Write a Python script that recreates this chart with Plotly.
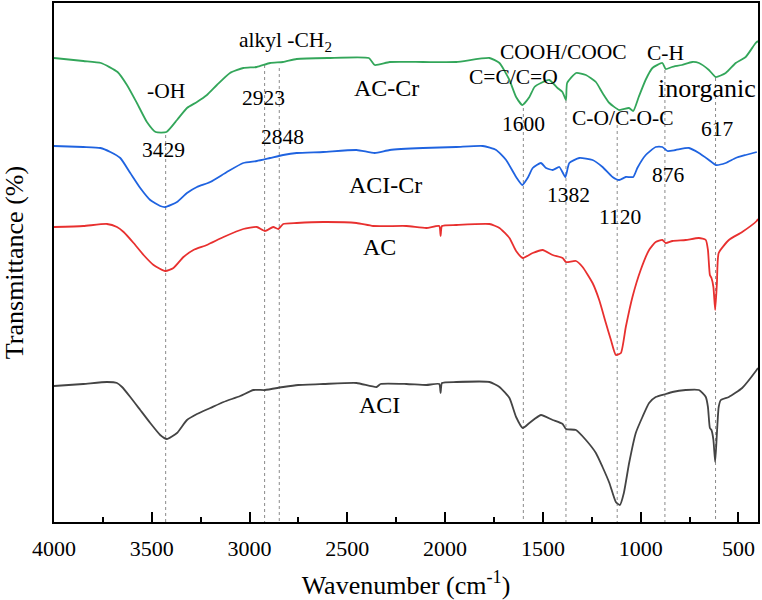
import plotly.graph_objects as go

# FTIR spectra, transmittance in arbitrary units (curves stacked with offsets)
wn_accr = [4000, 3850, 3760, 3675, 3627, 3576, 3525, 3480, 3425, 3371, 3320, 3269, 3218, 3167,
           3100, 3032, 2963, 2895, 2829, 2759, 2600, 2390, 2360, 2283, 2113, 1943, 1773, 1722,
           1671, 1637, 1605, 1569, 1543, 1510, 1467, 1425, 1400, 1382, 1376, 1330, 1280, 1229,
           1195, 1160, 1110, 1060, 1038, 1010, 975, 940, 889, 872, 840, 789, 737, 702, 651, 616,
           565, 514, 463, 412, 400]
t_accr = [464, 461, 459, 450, 437, 419, 400, 390, 390, 402, 414, 420, 427, 437,
          449, 454, 455, 459, 460, 463, 464, 464, 457, 460, 460, 460, 464, 459,
          442, 425, 417, 425, 435, 439, 442, 434, 430, 422, 439, 449, 447, 440,
          429, 419, 412, 414, 411, 425, 442, 454, 459, 453, 455, 457, 460, 459, 452, 445,
          449, 459, 465, 479, 481]

wn_acicr = [4000, 3850, 3763, 3712, 3661, 3610, 3559, 3508, 3457, 3431, 3371, 3320, 3269, 3201,
            3116, 3032, 2963, 2895, 2828, 2759, 2623, 2453, 2360, 2283, 2113, 1943, 1807, 1739,
            1688, 1637, 1605, 1578, 1552, 1510, 1484, 1450, 1416, 1385, 1365, 1314, 1246, 1195,
            1144, 1110, 1076, 1038, 1017, 974, 923, 889, 863, 821, 753, 702, 651, 616, 565, 514,
            463, 406]
t_acicr = [376, 375, 374, 370, 364, 349, 334, 322, 316, 315, 320, 329, 335, 340,
           350, 359, 361, 364, 367, 369, 370, 372, 369, 372, 374, 375, 376, 372,
           362, 345, 337, 344, 354, 359, 354, 352, 355, 345, 359, 364, 362, 355,
           345, 342, 345, 345, 354, 367, 375, 375, 371, 372, 374, 369, 362, 357, 359, 364,
           367, 370]

wn_ac = [4000, 3850, 3729, 3678, 3644, 3593, 3542, 3491, 3431, 3389, 3338, 3287, 3218, 3133,
         3032, 2963, 2921, 2879, 2853, 2828, 2759, 2623, 2453, 2368, 2198, 2096, 2030, 2023,
         2016, 1943, 1773, 1722, 1671, 1637, 1603, 1552, 1501, 1450, 1399, 1382, 1331, 1297,
         1246, 1212, 1178, 1152, 1127, 1101, 1076, 1042, 1000, 957, 923, 889, 872, 838, 770,
         702, 667, 656, 646, 638, 628, 619, 610, 601, 549, 481, 407, 400]
t_ac = [295, 296, 298, 295, 290, 279, 267, 257, 251, 254, 265, 272, 277, 285,
        293, 295, 291, 295, 293, 298, 299, 300, 299, 296, 296, 294, 296, 286,
        296, 297, 298, 294, 284, 271, 264, 269, 272, 267, 264, 260, 261, 255,
        239, 222, 199, 182, 167, 169, 195, 225, 252, 272, 280, 282, 279, 281, 282,
        284, 282, 272, 247, 244, 235, 212, 239, 269, 282, 290, 301, 303]

wn_aci = [4000, 3850, 3729, 3678, 3652, 3610, 3559, 3508, 3457, 3423, 3371, 3320, 3269, 3201,
          3133, 3048, 2980, 2921, 2828, 2751, 2623, 2453, 2351, 2330, 2198, 2096, 2030, 2023,
          2016, 1943, 1773, 1722, 1671, 1637, 1603, 1569, 1510, 1450, 1399, 1382, 1331, 1280,
          1229, 1195, 1160, 1127, 1106, 1086, 1059, 1025, 991, 957, 923, 872, 838, 770, 702,
          667, 656, 646, 638, 628, 619, 610, 601, 590, 549, 481, 407, 400]
t_aci = [136, 138, 140, 139, 135, 125, 112, 99, 87, 83, 89, 102, 108, 114,
         120, 126, 132, 132, 135, 137, 138, 139, 135, 138, 138, 137, 138, 129,
         139, 140, 140, 135, 124, 105, 94, 99, 107, 102, 98, 93, 92, 82,
         69, 55, 39, 20, 17, 29, 59, 89, 105, 119, 125, 128, 130, 132, 132,
         125, 115, 94, 92, 82, 60, 89, 115, 122, 125, 134, 152, 154]

# marked bands and where their guide lines start
peaks = [3429, 2923, 2848, 1600, 1382, 1120, 876, 617]
peak_tops = [387, 457, 454, 414, 422, 409, 452, 444]

SERIF = "Liberation Serif, Times New Roman, serif"

fig = go.Figure()

for p, top in zip(peaks, peak_tops):
    fig.add_trace(go.Scatter(x=[p, p], y=[top, 0], mode="lines", showlegend=False,
                             line=dict(color="#8a8a8a", width=1, dash="dot"), hoverinfo="skip"))

curves = [
    (wn_aci, t_aci, "ACI", "#444444"),
    (wn_ac, t_ac, "AC", "#e8302f"),
    (wn_acicr, t_acicr, "ACI-Cr", "#1f63e0"),
    (wn_accr, t_accr, "AC-Cr", "#33a65a"),
]
for x, y, name, col in curves:
    fig.add_trace(go.Scatter(x=x, y=y, mode="lines", name=name, showlegend=False,
                             line=dict(color=col, width=1.8, shape="spline", smoothing=0.5)))

# text labels (text, wavenumber, transmittance, font size)
labels = [
    ("-OH", 3429, 431, 21.5), ("alkyl -CH<sub>2</sub>", 2814, 481, 21.5), ("2923", 2928, 424, 21.5),
    ("3429", 3440, 372, 21.5), ("2848", 2831, 385, 21.5), ("COOH/COOC", 1395, 470, 21.5),
    ("C=C/C=O", 1652, 445, 21.5), ("1600", 1600, 398, 21.5), ("C-O/C-O-C", 1089, 404, 21.5),
    ("C-H", 871, 469, 21.5), ("inorganic", 659, 434, 26), ("617", 605, 393, 21.5),
    ("1382", 1370, 327, 21.5), ("876", 860, 347, 21.5), ("1120", 1106, 305, 21.5),
    ("AC-Cr", 2298, 434, 24), ("ACI-Cr", 2305, 337, 24), ("AC", 2334, 275, 24), ("ACI", 2334, 117, 24),
]
for txt, xx, yy, fs in labels:
    fig.add_annotation(x=xx, y=yy, text=txt, showarrow=False,
                       font=dict(family=SERIF, size=fs, color="black"))

fig.update_layout(
    width=762, height=600,
    margin=dict(l=54, r=4, t=3, b=78),
    plot_bgcolor="white", paper_bgcolor="white",
    font=dict(family=SERIF, color="black"),
    xaxis=dict(
        range=[4000, 400], tickmode="array", tickvals=[4000, 3500, 3000, 2500, 2000, 1500, 1000, 500],
        ticks="inside", ticklen=10, tickwidth=1.5, tickcolor="black",
        minor=dict(tickvals=[3750, 3250, 2750, 2250, 1750, 1250, 750], ticks="inside",
                   ticklen=5, tickwidth=1.5, tickcolor="black"),
        showline=True, linewidth=2, linecolor="black", mirror=True,
        showgrid=False, zeroline=False, automargin=False, ticklabelstandoff=6,
        tickfont=dict(family=SERIF, size=22),
        title=dict(text="Wavenumber (cm<sup>-1</sup>)", font=dict(family=SERIF, size=26), standoff=20),
    ),
    yaxis=dict(
        range=[0, 519], showticklabels=False, ticks="",
        showline=True, linewidth=2, linecolor="black", mirror=True,
        showgrid=False, zeroline=False, automargin=False,
        title=dict(text="Transmittance (%)", font=dict(family=SERIF, size=26), standoff=22),
    ),
)

# the page body has a default 8px margin; drop it so the figure sits at the window edge
fig.write_html("out.html", config={"displayModeBar": False},
               post_script="document.body.style.margin='0px';")
